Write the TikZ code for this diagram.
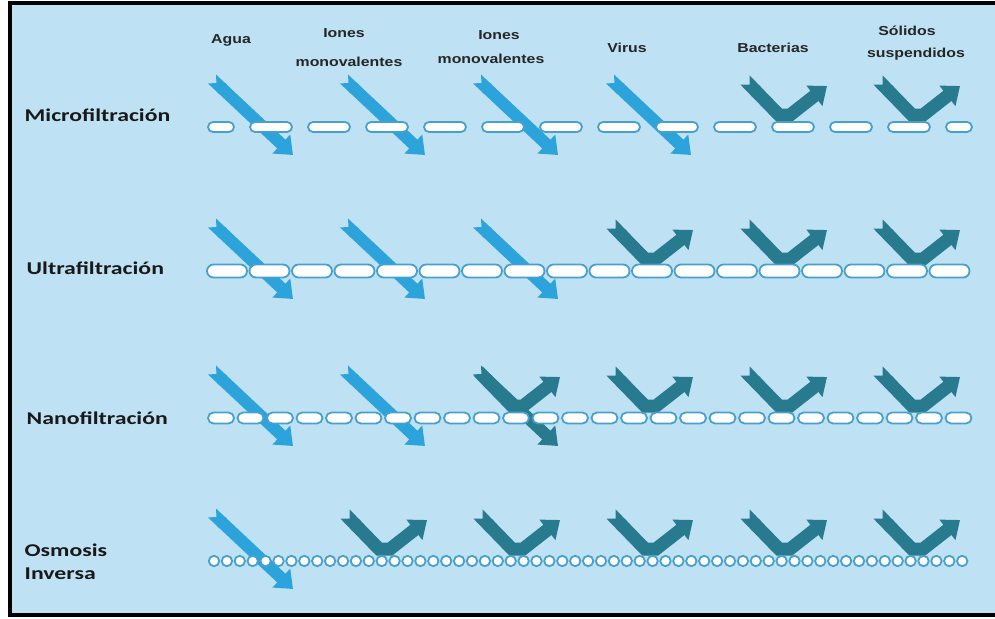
\documentclass[tikz,border=0pt]{standalone}
\usepackage{fontspec}
\setmainfont{Liberation Sans}
\newfontfamily\labelfont{Carlito}
\usepackage{xcolor}
\usetikzlibrary{arrows.meta}
\definecolor{bgblue}{RGB}{190,226,243}
\definecolor{passblue}{RGB}{44,164,219}
\definecolor{stopteal}{RGB}{40,122,142}
\definecolor{poreblue}{RGB}{72,160,205}
\tikzset{%
  tipA/.tip={Triangle[width=25pt,length=16pt]},
  tailA/.tip={Triangle Cap[reversed]},
  pass/.style={line width=12pt, tailA-tipA},
  stop/.style={line width=13pt, line join=miter, tailA-tipA},
  pore/.style={draw=poreblue, fill=white, line width=1.8pt},
  head/.style={font=\bfseries\fontsize{13}{14}\selectfont, xscale=1.22, text=black!85},
  rowlabel/.style={font=\labelfont\bfseries\fontsize{18}{20}\selectfont, xscale=1.32, anchor=west, text=black!90}
}

\begin{document}
\begin{tikzpicture}[x=1pt,y=-1pt]
\useasboundingbox (0,0) rectangle (995,618);
\filldraw[fill=bgblue, draw=black, line width=4pt] (10,3.5) rectangle (1010,615);

% column headers
\node[head] (agua) at (231,40) {Agua};
\node[head] (ionesA) at (344,33) {Iones};
\node[head] (monoA) at (349,62) {monovalentes};
\node[head] (ionesB) at (499,35) {Iones};
\node[head] (monoB) at (491,59) {monovalentes};
\node[head] (virus) at (627,48) {Virus};
\node[head] (bact) at (773,48) {Bacterias};
\node[head] (solidos) at (907,31) {Sólidos};
\node[head] (susp) at (916,54) {suspendidos};

% row labels
\node[rowlabel] (micro) at (20,115) {Microfiltración};
\node[rowlabel] (ultra) at (22,268) {Ultrafiltración};
\node[rowlabel] (nano) at (22,418) {Nanofiltración};
\node[rowlabel] (osmo) at (20,550) {Osmosis};
\node[rowlabel] (inv) at (20,574) {Inversa};

% microfiltracion, m=127
\foreach \c in {205,337,470,603}
  \draw[passblue, pass] (\c+7,79) -- (\c+88,155);
\foreach \c in {737,870}
  \draw[stopteal, stop] (\c+8,80) -- (\c+42,115) -- (\c+53,115) -- (\c+90,86);
\filldraw[pore, rounded corners=5pt] (208,122) rectangle (234,132);
\foreach \k in {0,...,11}
  \filldraw[pore, rounded corners=5pt] (250+58*\k,122) rectangle ++(42,10);
\filldraw[pore, rounded corners=5pt] (946,122) rectangle (972,132);

% ultrafiltracion, m=271
\foreach \c in {205,337,470}
  \draw[passblue, pass] (\c+7,223) -- (\c+88,299);
\foreach \c in {603,737,870}
  \draw[stopteal, stop] (\c+8,224) -- (\c+42,259) -- (\c+53,259) -- (\c+90,230);
\foreach \k in {0,...,17}
  \filldraw[pore, rounded corners=6.5pt] (207+42.5*\k,264.5) rectangle ++(40,13);

% nanofiltracion, m=418
\foreach \c in {205,337}
  \draw[passblue, pass] (\c+7,370) -- (\c+88,446);
\draw[stopteal, pass] (477,370) -- (558,446);
\foreach \c in {470,603,737,870}
  \draw[stopteal, stop] (\c+8,371) -- (\c+42,406) -- (\c+53,406) -- (\c+90,377);
\foreach \k in {0,...,25}
  \filldraw[pore, rounded corners=5.5pt] (208+29.5*\k,412.5) rectangle ++(26,11);

% osmosis inversa, m=561
\draw[passblue, pass] (212,513) -- (293,589);
\foreach \c in {337,470,603,737,870}
  \draw[stopteal, stop] (\c+8,514) -- (\c+42,549) -- (\c+53,549) -- (\c+90,520);
\foreach \k in {0,...,58}
  \filldraw[pore] (214+12.9*\k,561) circle (5.2);
\end{tikzpicture}
\end{document}
